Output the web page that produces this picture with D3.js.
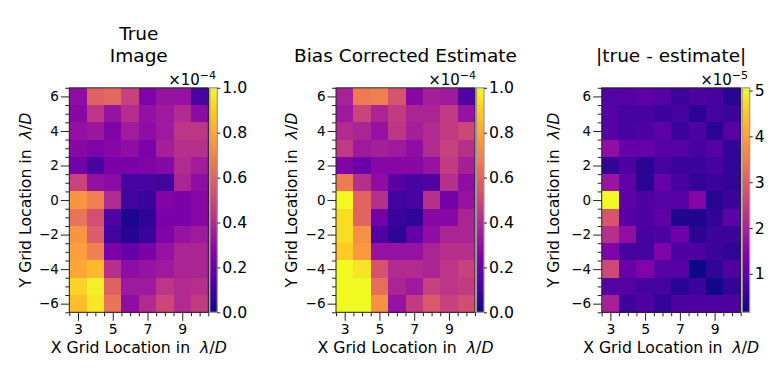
<!DOCTYPE html>
<html>
<head>
<meta charset="utf-8">
<script src="https://cdn.jsdelivr.net/npm/d3@7"></script>
<style>
  body { margin: 0; background: #fff; }
  text { font-family: "DejaVu Sans", sans-serif; fill: #000; }
</style>
</head>
<body>
<div id="chart"></div>
<script>
// grid coordinates in lambda/D
var xCols = [3, 4, 5, 6, 7, 8, 9, 10];
var yRows = [6, 5, 4, 3, 2, 1, 0, -1, -2, -3, -4, -5, -6];
var xTicks = [3, 5, 7, 9];
var yTicks = [-6, -4, -2, 0, 2, 4, 6];

// values x1e-4, rows from y=6 down to y=-6
var trueImage = [
  [0.30, 0.59, 0.61, 0.48, 0.25, 0.32, 0.32, 0.12],
  [0.28, 0.44, 0.32, 0.41, 0.31, 0.34, 0.40, 0.29],
  [0.31, 0.33, 0.26, 0.35, 0.30, 0.34, 0.44, 0.44],
  [0.28, 0.25, 0.28, 0.30, 0.24, 0.36, 0.42, 0.42],
  [0.22, 0.12, 0.24, 0.24, 0.26, 0.28, 0.40, 0.35],
  [0.49, 0.31, 0.29, 0.12, 0.12, 0.10, 0.38, 0.30],
  [0.75, 0.69, 0.40, 0.10, 0.08, 0.26, 0.24, 0.28],
  [0.65, 0.53, 0.14, 0.02, 0.06, 0.24, 0.24, 0.28],
  [0.75, 0.57, 0.10, 0.04, 0.08, 0.26, 0.32, 0.34],
  [0.78, 0.69, 0.24, 0.18, 0.24, 0.32, 0.38, 0.38],
  [0.80, 0.85, 0.42, 0.30, 0.32, 0.34, 0.38, 0.38],
  [0.91, 0.98, 0.59, 0.34, 0.34, 0.44, 0.40, 0.42],
  [0.86, 0.96, 0.65, 0.30, 0.40, 0.50, 0.40, 0.46]
];

var biasCorrected = [
  [0.37, 0.67, 0.69, 0.55, 0.28, 0.36, 0.34, 0.14],
  [0.34, 0.49, 0.38, 0.46, 0.38, 0.38, 0.46, 0.32],
  [0.40, 0.38, 0.32, 0.44, 0.36, 0.40, 0.46, 0.50],
  [0.46, 0.34, 0.36, 0.34, 0.30, 0.40, 0.48, 0.42],
  [0.26, 0.20, 0.28, 0.28, 0.28, 0.32, 0.46, 0.36],
  [0.67, 0.42, 0.30, 0.16, 0.12, 0.14, 0.42, 0.30],
  [1.00, 0.60, 0.42, 0.10, 0.12, 0.42, 0.22, 0.32],
  [0.93, 0.60, 0.22, 0.08, 0.06, 0.28, 0.28, 0.38],
  [0.93, 0.74, 0.14, 0.06, 0.18, 0.30, 0.38, 0.38],
  [0.89, 0.76, 0.32, 0.32, 0.32, 0.38, 0.42, 0.42],
  [1.00, 0.95, 0.54, 0.40, 0.40, 0.38, 0.44, 0.48],
  [1.00, 1.00, 0.63, 0.38, 0.34, 0.48, 0.44, 0.46],
  [1.00, 1.00, 0.74, 0.32, 0.46, 0.56, 0.48, 0.52]
];

// values x1e-5
var absDiff = [
  [0.85, 0.90, 1.00, 0.90, 0.60, 0.80, 0.70, 0.40],
  [0.85, 0.70, 0.70, 0.60, 0.70, 0.40, 0.70, 0.60],
  [0.90, 0.70, 0.80, 1.00, 0.60, 0.80, 0.40, 0.90],
  [1.65, 1.10, 1.10, 0.90, 0.90, 0.70, 0.90, 0.50],
  [0.50, 0.80, 0.40, 0.70, 0.60, 0.60, 0.70, 0.50],
  [1.75, 1.00, 0.40, 1.10, 0.70, 0.50, 0.60, 0.50],
  [5.06, 1.00, 0.80, 0.90, 0.90, 1.45, 0.40, 0.60],
  [2.85, 0.90, 0.80, 1.00, 0.30, 0.30, 0.50, 1.00],
  [2.20, 1.65, 0.70, 0.80, 1.20, 0.40, 0.60, 0.60],
  [1.40, 0.70, 0.70, 1.40, 0.80, 0.80, 0.60, 0.50],
  [2.65, 1.10, 1.40, 0.90, 0.90, 0.16, 0.50, 0.80],
  [0.85, 0.90, 0.70, 0.70, 0.40, 0.60, 0.20, 0.50],
  [1.95, 0.60, 0.80, 0.50, 0.80, 0.80, 0.80, 0.80]
];

var cbTicksE4 = [0, 0.2, 0.4, 0.6, 0.8, 1.0];
var cbTicksE5 = [1, 2, 3, 4, 5];

var width = 781;
var height = 384;
var plotTop = 87.8, plotBottom = 312.3;
var imgW = 139;

var panels = [
  { left: 69.3, values: trueImage, domain: [0, 1], cbTicks: cbTicksE4, fmt: ".1f",
    exp: "\u22124", title: ["True", "Image"], ylabX: 31, expX: 216 },
  { left: 336, values: biasCorrected, domain: [0, 1], cbTicks: cbTicksE4, fmt: ".1f",
    exp: "\u22124", title: ["Bias Corrected Estimate"], ylabX: 297, expX: 476 },
  { left: 601.7, values: absDiff, domain: d3.extent(absDiff.flat()), cbTicks: cbTicksE5, fmt: "d",
    exp: "\u22125", title: ["|true - estimate|"], ylabX: 559, expX: 748 }
];

var svg = d3.select("#chart")
  .append("svg")
  .attr("width", width)
  .attr("height", height);

svg.append("rect").attr("width", width).attr("height", height).attr("fill", "#fff");

// shared gradient for the colorbars
var grad = svg.append("defs").append("linearGradient")
  .attr("id", "plasma")
  .attr("x1", 0).attr("y1", 1).attr("x2", 0).attr("y2", 0);
d3.range(0, 1.0001, 0.05).forEach(function(t) {
  grad.append("stop").attr("offset", t).attr("stop-color", d3.interpolatePlasma(t));
});

panels.forEach(function(p) {
  var g = svg.append("g");
  var right = p.left + imgW;

  var xBand = d3.scaleBand().domain(xCols).range([p.left, right]);
  var yBand = d3.scaleBand().domain(yRows).range([plotTop, plotBottom]);
  var xLin = d3.scaleLinear().domain([2.5, 10.5]).range([p.left, right]);
  var yLin = d3.scaleLinear().domain([6.5, -6.5]).range([plotTop, plotBottom]);
  var color = d3.scaleSequential(d3.interpolatePlasma).domain(p.domain).clamp(true);

  // cells
  var cells = [];
  p.values.forEach(function(row, i) {
    row.forEach(function(v, j) { cells.push({ x: xCols[j], y: yRows[i], v: v }); });
  });
  g.selectAll("rect.cell")
    .data(cells)
    .enter()
    .append("rect")
      .attr("class", "cell")
      .attr("x", d => xBand(d.x))
      .attr("y", d => yBand(d.y))
      .attr("width", xBand.bandwidth() + 0.4)
      .attr("height", yBand.bandwidth() + 0.4)
      .attr("fill", d => color(d.v))
      .attr("shape-rendering", "crispEdges");

  // frame
  g.append("rect")
    .attr("x", p.left).attr("y", plotTop)
    .attr("width", imgW).attr("height", plotBottom - plotTop)
    .attr("fill", "none").attr("stroke", "#222").attr("stroke-width", 1);

  // axes: major and minor ticks
  var minorX = d3.range(2.5, 10.51, 0.5).filter(v => xTicks.indexOf(v) < 0);
  var minorY = d3.range(-6.5, 6.51, 0.5).filter(v => yTicks.indexOf(v) < 0);

  var xAxis = g.append("g").attr("transform", "translate(0," + plotBottom + ")")
    .call(d3.axisBottom(xLin).tickValues(xTicks).tickSize(8.5).tickPadding(3).tickFormat(d3.format("d")));
  g.append("g").attr("transform", "translate(0," + plotBottom + ")")
    .call(d3.axisBottom(xLin).tickValues(minorX).tickSize(4).tickFormat(""));
  var yAxis = g.append("g").attr("transform", "translate(" + p.left + ",0)")
    .call(d3.axisLeft(yLin).tickValues(yTicks).tickSize(8.5).tickPadding(2).tickFormat(d3.format("d")));
  g.append("g").attr("transform", "translate(" + p.left + ",0)")
    .call(d3.axisLeft(yLin).tickValues(minorY).tickSize(4).tickFormat(""));

  g.selectAll(".domain").remove();
  g.selectAll(".tick line").attr("stroke", "#222").attr("stroke-width", 1);
  xAxis.selectAll("text").style("font-size", "14px").style("font-family", "DejaVu Sans");
  yAxis.selectAll("text").style("font-size", "13.5px").style("font-family", "DejaVu Sans");

  // axis labels
  var xl = g.append("text")
    .attr("x", (p.left + right) / 2).attr("y", 352.5)
    .attr("text-anchor", "middle")
    .style("font-size", "15.7px");
  xl.append("tspan").text("X Grid Location in \u00a0");
  xl.append("tspan").style("font-style", "italic").text("\u03bb");
  xl.append("tspan").text("/");
  xl.append("tspan").style("font-style", "italic").text("D");

  var yl = g.append("text")
    .attr("transform", "translate(" + p.ylabX + "," + (plotTop + plotBottom) / 2 + ") rotate(-90)")
    .attr("text-anchor", "middle")
    .style("font-size", "15.7px");
  yl.append("tspan").text("Y Grid Location in \u00a0");
  yl.append("tspan").style("font-style", "italic").text("\u03bb");
  yl.append("tspan").text("/");
  yl.append("tspan").style("font-style", "italic").text("D");

  // title
  p.title.forEach(function(line, i) {
    g.append("text")
      .attr("x", (p.left + right) / 2)
      .attr("y", 62 - (p.title.length - 1 - i) * 22)
      .attr("text-anchor", "middle")
      .style("font-size", "18.5px")
      .text(line);
  });

  // colorbar
  var cbX = right + 1.5, cbW = 7.5;
  var cbScale = d3.scaleLinear().domain(p.domain).range([plotBottom, plotTop]);
  g.append("rect")
    .attr("x", cbX).attr("y", plotTop)
    .attr("width", cbW).attr("height", plotBottom - plotTop)
    .attr("fill", "url(#plasma)")
    .attr("stroke", "#999").attr("stroke-width", 1.2);
  var cbAxis = g.append("g").attr("transform", "translate(" + (cbX + cbW) + ",0)")
    .call(d3.axisRight(cbScale).tickValues(p.cbTicks).tickSize(3).tickPadding(2).tickFormat(d3.format(p.fmt)));
  cbAxis.select(".domain").remove();
  cbAxis.selectAll(".tick line").attr("stroke", "#222");
  cbAxis.selectAll("text").style("font-size", "15.7px").style("font-family", "DejaVu Sans");

  // offset text
  var ot = g.append("text")
    .attr("x", p.expX).attr("y", 85)
    .attr("text-anchor", "end")
    .style("font-size", "15px");
  ot.append("tspan").text("\u00d710");
  ot.append("tspan").attr("dy", -6.5).style("font-size", "11px").text(p.exp);
});
</script>
</body>
</html>
